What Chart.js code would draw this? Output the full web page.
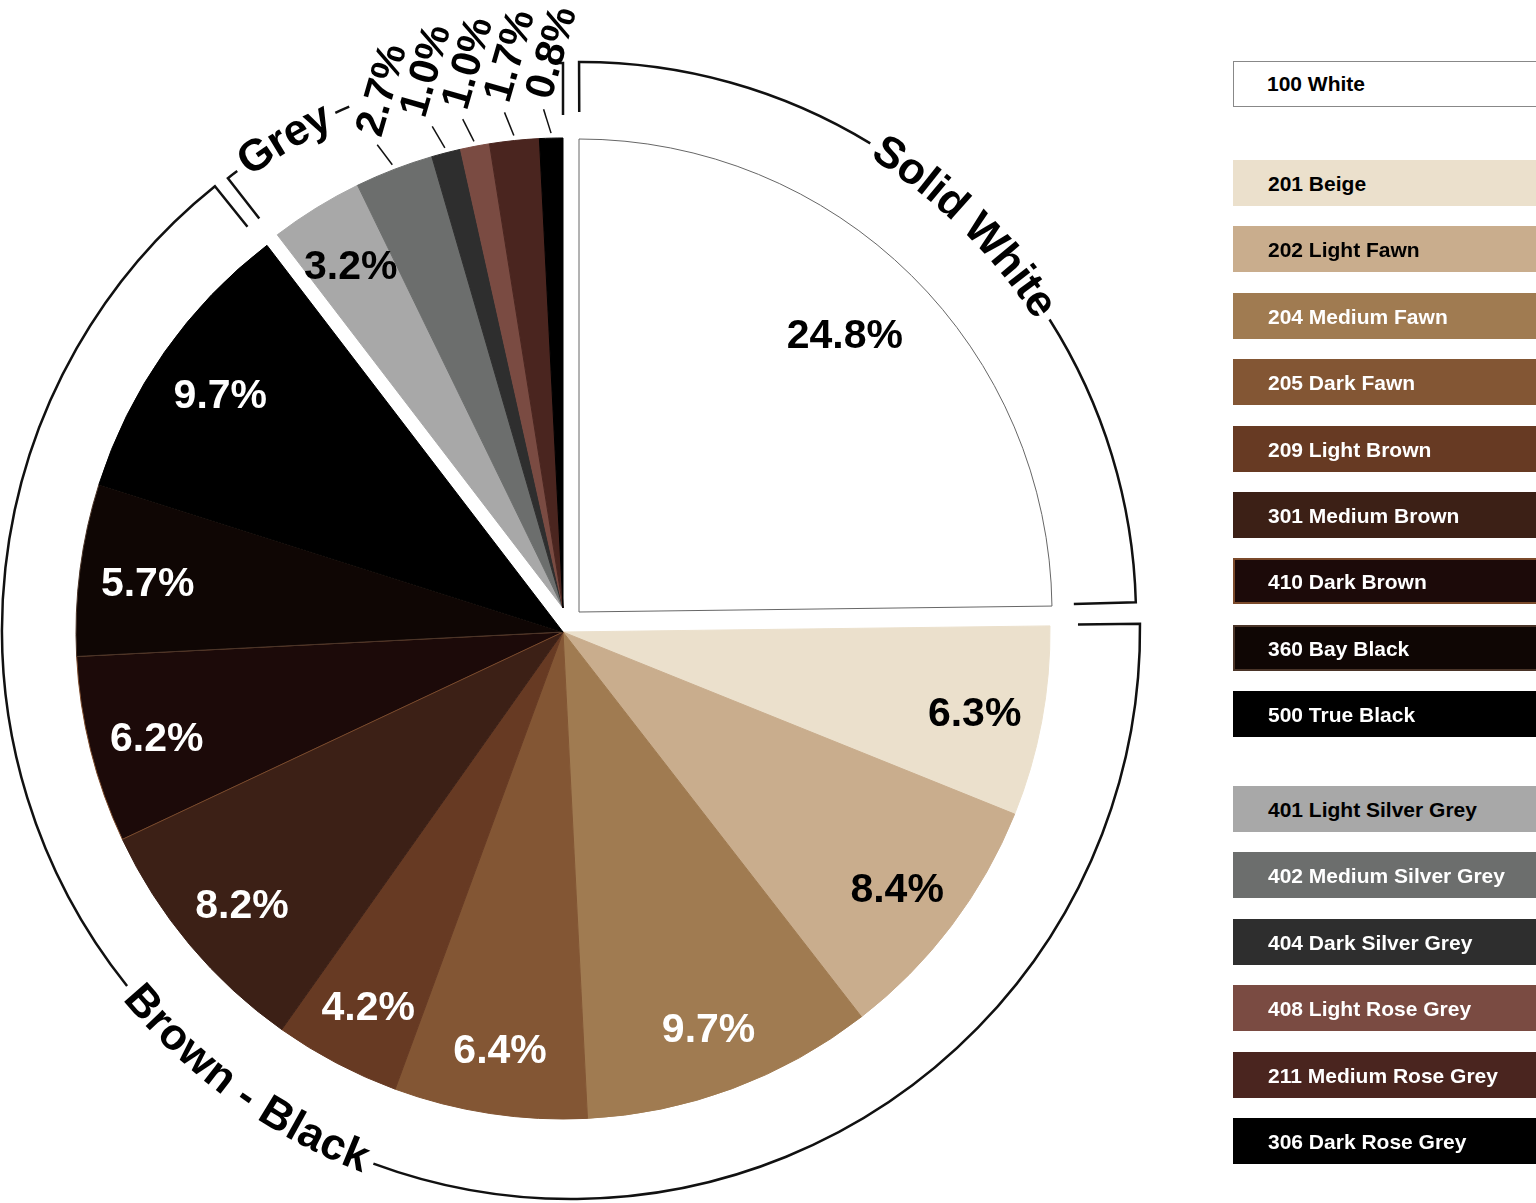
<!DOCTYPE html>
<html>
<head>
<meta charset="utf-8">
<script src="https://cdn.jsdelivr.net/npm/chart.js@4.4.1/dist/chart.umd.min.js"></script>
<style>
  html, body { margin: 0; padding: 0; background: #fff; overflow: hidden; }
  #wrap { position: relative; width: 1536px; height: 1203px; }
  #pieChart { position: absolute; left: 0; top: 0; }
  .key {
    position: absolute; left: 1233px; width: 330px; height: 46px;
    box-sizing: border-box; padding-left: 33px;
    font: bold 21px "Liberation Sans", Arial, sans-serif; line-height: 44px;
    white-space: nowrap;
  }
</style>
</head>
<body>
<div id="wrap">
  <canvas id="pieChart" width="1536" height="1203"></canvas>
  <div id="legend"></div>
</div>
<script>
// colour names, clockwise from 12 o'clock
const colourNames = [
  "100 White",
  "201 Beige", "202 Light Fawn", "204 Medium Fawn", "205 Dark Fawn", "209 Light Brown",
  "301 Medium Brown", "410 Dark Brown", "360 Bay Black", "500 True Black",
  "401 Light Silver Grey", "402 Medium Silver Grey", "404 Dark Silver Grey",
  "408 Light Rose Grey", "211 Medium Rose Grey", "306 Dark Rose Grey",
];
const shares = [24.8, 6.3, 8.4, 9.7, 6.4, 4.2, 8.2, 6.2, 5.7, 9.7, 3.2, 2.7, 1.0, 1.0, 1.7, 0.8];
const groupNames = ["Solid White", "Brown - Black", "Grey"];
const groupSizes = [1, 9, 6];

const sliceColours = [
  "#ffffff",
  "#ebe0cc", "#c9ad8d", "#a07b51", "#835634", "#673a23",
  "#3c2016", "#1c0a09", "#0f0604", "#000000",
  "#a8a8a8", "#6c6e6d", "#2e2e2e", "#7a4b42", "#4a251f", "#000000",
];
const edgeColours = [
  "#666666",
  "#ebe0cc", "#c9ad8d", "#a07b51", "#835634", "#673a23",
  "#3c2016", "#7b4a2b", "#4a3428", "#000000",
  "#a8a8a8", "#6c6e6d", "#2e2e2e", "#7a4b42", "#4a251f", "#000000",
];

const groupOf = [];
groupSizes.forEach((n, g) => { for (let i = 0; i < n; i++) groupOf.push(g); });

// how each group is pulled out, and where its bracket sits
const groupStyle = [
  { shift: [16, -20], shrink: 14, labelAt: 0.8, labelDy: -6, legendTop: 61,
    bracket: { centre: [18, -15], radius: 555, pad: [-0.2, -0.8], caps: [50, 62], textAt: 44.5, flip: false } },
  { shift: [0, 0], shrink: 0, labelAt: 0.86, labelDy: 6, legendTop: 160,
    bracket: { centre: [8, -2], radius: 569, pad: [0.1, -1.3], caps: [62, 52], textAt: 215.8, flip: true } },
  { shift: [0, -24], shrink: 17, labelAt: 0.86, labelDy: 4, legendTop: 786,
    bracket: { centre: [0, -24], radius: 545, pad: [-0.5, 0], caps: [51, 52], textAt: 329.3, flip: false, dashOnly: true } },
];

const FONT = '"Liberation Sans", Arial, sans-serif';
const rad = d => d * Math.PI / 180;

function isLight(hex) {
  const v = parseInt(hex.slice(1), 16);
  const r = (v >> 16) & 255, g = (v >> 8) & 255, b = v & 255;
  return (0.299 * r + 0.587 * g + 0.114 * b) / 255 > 0.55;
}

// draw the arcs of each group with its own shift
const groupShift = {
  id: "groupShift",
  beforeDatasetDraw(chart, args) {
    const ctx = chart.ctx;
    args.meta.data.forEach((arc, i) => {
      const st = groupStyle[groupOf[i]];
      const r0 = arc.outerRadius;
      ctx.save();
      ctx.translate(st.shift[0], st.shift[1]);
      arc.outerRadius = r0 - st.shrink;
      arc.draw(ctx);
      arc.outerRadius = r0;
      ctx.restore();
    });
    return false;
  },
};

function arcText(ctx, text, cx, cy, r, midDeg, flip) {
  const chars = [...text];
  const widths = chars.map(ch => ctx.measureText(ch).width);
  const total = widths.reduce((a, b) => a + b, 0);
  const span = total / r;
  let a = rad(midDeg) + (flip ? span / 2 : -span / 2);
  chars.forEach((ch, i) => {
    const half = widths[i] / 2 / r;
    a += flip ? -half : half;
    ctx.save();
    ctx.translate(cx + r * Math.sin(a), cy - r * Math.cos(a));
    ctx.rotate(flip ? a + Math.PI : a);
    ctx.fillText(ch, 0, 0);
    ctx.restore();
    a += flip ? -half : half;
  });
  return span * 180 / Math.PI;
}

const brackets = {
  id: "brackets",
  afterDraw(chart) {
    const ctx = chart.ctx;
    const arc0 = chart.getDatasetMeta(0).data[0];
    const px = arc0.x, py = arc0.y;
    let cum = 0;
    groupSizes.forEach((n, g) => {
      const a0 = shares.slice(0, cum).reduce((a, v) => a + v, 0);
      const sum = shares.slice(cum, cum + n).reduce((a, v) => a + v, 0);
      const b = groupStyle[g].bracket;
      const start = a0 / 100 * 360 + b.pad[0];
      const end = (a0 + sum) / 100 * 360 + b.pad[1];
      cum += n;
      const cx = px + b.centre[0], cy = py + b.centre[1], r = b.radius;

      ctx.save();
      ctx.fillStyle = "#000";
      ctx.font = "bold 44px " + FONT;
      ctx.textAlign = "center";
      ctx.textBaseline = "middle";
      const span = arcText(ctx, groupNames[g], cx, cy, r, b.textAt, b.flip);
      const gap = 7 / r * 180 / Math.PI;
      const tA = b.textAt - span / 2 - gap, tB = b.textAt + span / 2 + gap;

      const segs = b.dashOnly
        ? [[start, tA], [tB, tB + 1.6], [end - 0.7, end]]
        : [[start, tA], [tB, end]];
      ctx.strokeStyle = "#111";
      ctx.lineWidth = 2.5;
      segs.forEach(([s, e], k) => {
        ctx.beginPath();
        if (k === 0) ctx.moveTo(cx + (r - b.caps[0]) * Math.sin(rad(s)), cy - (r - b.caps[0]) * Math.cos(rad(s)));
        else ctx.moveTo(cx + r * Math.sin(rad(s)), cy - r * Math.cos(rad(s)));
        ctx.arc(cx, cy, r, rad(s) - Math.PI / 2, rad(e) - Math.PI / 2);
        if (k === segs.length - 1) ctx.lineTo(cx + (r - b.caps[1]) * Math.sin(rad(e)), cy - (r - b.caps[1]) * Math.cos(rad(e)));
        ctx.stroke();
      });
      ctx.restore();
    });
  },
};

const sliceLabels = {
  id: "sliceLabels",
  afterDraw(chart) {
    const ctx = chart.ctx;
    const outside = [];
    ctx.save();
    ctx.font = "bold 41px " + FONT;
    chart.getDatasetMeta(0).data.forEach((arc, i) => {
      const st = groupStyle[groupOf[i]];
      const mid = (arc.startAngle + arc.endAngle) / 2;
      const r = arc.outerRadius - st.shrink;
      const x0 = arc.x + st.shift[0], y0 = arc.y + st.shift[1];
      const text = shares[i].toFixed(1) + "%";
      if (shares[i] >= 3) {
        ctx.fillStyle = isLight(sliceColours[i]) ? "#000" : "#fff";
        ctx.textAlign = "center";
        ctx.textBaseline = "middle";
        const f = st.labelAt;
        ctx.fillText(text, x0 + Math.cos(mid) * r * f, y0 + Math.sin(mid) * r * f + st.labelDy);
      } else {
        // small slices: a slanted leader tick
        const sx = x0 + Math.cos(mid) * (r + 5), sy = y0 + Math.sin(mid) * (r + 5);
        const tilt = mid - rad(16);
        const ex = sx + Math.cos(tilt) * 25, ey = sy + Math.sin(tilt) * 25;
        ctx.strokeStyle = "#111";
        ctx.lineWidth = 1.5;
        ctx.beginPath();
        ctx.moveTo(sx, sy);
        ctx.lineTo(ex, ey);
        ctx.stroke();
        outside.push({ text, x: ex + Math.cos(tilt) * 12, y: ey + Math.sin(tilt) * 12 });
      }
    });
    // keep the upright values apart, working leftward from 12 o'clock
    for (let k = outside.length - 2; k >= 0; k--) {
      outside[k].x = Math.min(outside[k].x, outside[k + 1].x - 42);
    }
    outside.forEach(o => {
      ctx.save();
      ctx.translate(o.x, o.y);
      ctx.rotate(rad(-74));
      ctx.fillStyle = "#000";
      ctx.textAlign = "left";
      ctx.textBaseline = "middle";
      ctx.fillText(o.text, 0, 0);
      ctx.restore();
    });
    ctx.restore();
  },
};

const chart = new Chart(document.getElementById("pieChart"), {
  type: "pie",
  data: {
    labels: colourNames,
    datasets: [{
      data: shares,
      backgroundColor: sliceColours,
      borderColor: edgeColours,
      borderWidth: 1,
    }],
  },
  options: {
    responsive: false,
    animation: false,
    radius: 487,
    layout: { padding: { left: 0, right: 410, top: 61, bottom: 0 } },
    plugins: { legend: { display: false }, tooltip: { enabled: false } },
  },
  plugins: [groupShift, brackets, sliceLabels],
});

// legend boxes at the right, built from the chart's own data
const legend = document.getElementById("legend");
const counters = [0, 0, 0];
chart.data.labels.forEach((name, i) => {
  const g = groupOf[i];
  const key = document.createElement("div");
  key.className = "key";
  key.textContent = name;
  key.style.top = (groupStyle[g].legendTop + counters[g] * 66.4) + "px";
  key.style.background = sliceColours[i];
  key.style.color = isLight(sliceColours[i]) ? "#000" : "#fff";
  key.style.border = (i === 0 ? "1.5px solid #888" : "2px solid " + edgeColours[i]);
  counters[g]++;
  legend.appendChild(key);
});
</script>
</body>
</html>
